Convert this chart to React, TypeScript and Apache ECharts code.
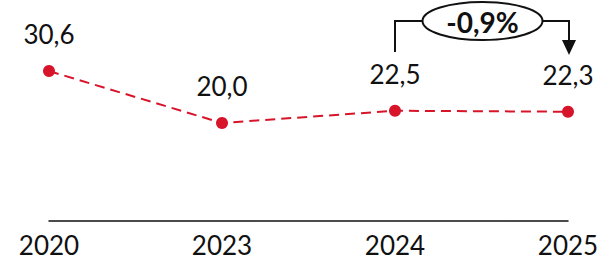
import React, { useEffect, useRef } from "react";
import * as echarts from "echarts";

const categories = ["2020", "2023", "2024", "2025"];
const values = [30.6, 20.0, 22.5, 22.3];
const changeLabel = "-0,9%";

const RED = "#d7142a";
const FONT = "Lato, 'Noto Sans', sans-serif";

export default function App() {
  const ref = useRef<HTMLDivElement>(null);
  useEffect(() => {
    if (!ref.current) return;
    const chart = echarts.init(ref.current, undefined, { renderer: "svg" });
    chart.setOption({
      animation: false,
      grid: { left: 49, right: 34, top: 25, bottom: 42 },
      xAxis: {
        type: "category",
        data: categories,
        boundaryGap: false,
        axisLine: { show: true, lineStyle: { color: "#111", width: 1.5 } },
        axisTick: { show: false },
        axisLabel: { color: "#111", fontSize: 26, fontFamily: FONT, margin: 11 },
      },
      yAxis: {
        type: "value",
        min: 0,
        max: 40,
        show: false,
        splitLine: { show: false },
      },
      series: [
        {
          type: "line",
          data: values,
          symbol: "circle",
          symbolSize: 12,
          itemStyle: { color: RED },
          lineStyle: { color: RED, width: 2, type: [10, 6] },
          label: {
            show: true,
            position: "top",
            distance: 18,
            color: "#111",
            fontSize: 26,
            fontFamily: FONT,
            formatter: (p: any) => p.value.toFixed(1).replace(".", ","),
          },
        },
      ],
    });

    const x1 = chart.convertToPixel({ xAxisIndex: 0 }, categories[2]) as number;
    const x2 = chart.convertToPixel({ xAxisIndex: 0 }, categories[3]) as number;
    const yTop = 21;
    const cx = (x1 + x2) / 2 + 1;
    const rx = 60;
    const ry = 19;
    chart.setOption({
      graphic: [
        {
          type: "polyline",
          shape: { points: [[x1, 52], [x1, yTop], [cx - rx, yTop]] },
          style: { stroke: "#111", lineWidth: 2, fill: null },
        },
        {
          type: "polyline",
          shape: { points: [[cx + rx, yTop], [x2 + 1, yTop], [x2 + 1, 42]] },
          style: { stroke: "#111", lineWidth: 2, fill: null },
        },
        {
          type: "polygon",
          shape: { points: [[x2 - 6, 40], [x2 + 8, 40], [x2 + 1, 55]] },
          style: { fill: "#111" },
        },
        {
          type: "ellipse",
          shape: { cx, cy: yTop, rx, ry },
          style: { fill: "#fff", stroke: "#111", lineWidth: 2 },
        },
        {
          type: "text",
          x: cx,
          y: yTop + 1,
          style: {
            text: changeLabel,
            fontSize: 28,
            fontWeight: "bold",
            fontFamily: FONT,
            fill: "#111",
            align: "center",
            verticalAlign: "middle",
          },
        },
      ],
    });
    return () => chart.dispose();
  }, []);
  return <div ref={ref} style={{ width: 602, height: 263, position: "absolute", left: 0, top: 0 }} />;
}
